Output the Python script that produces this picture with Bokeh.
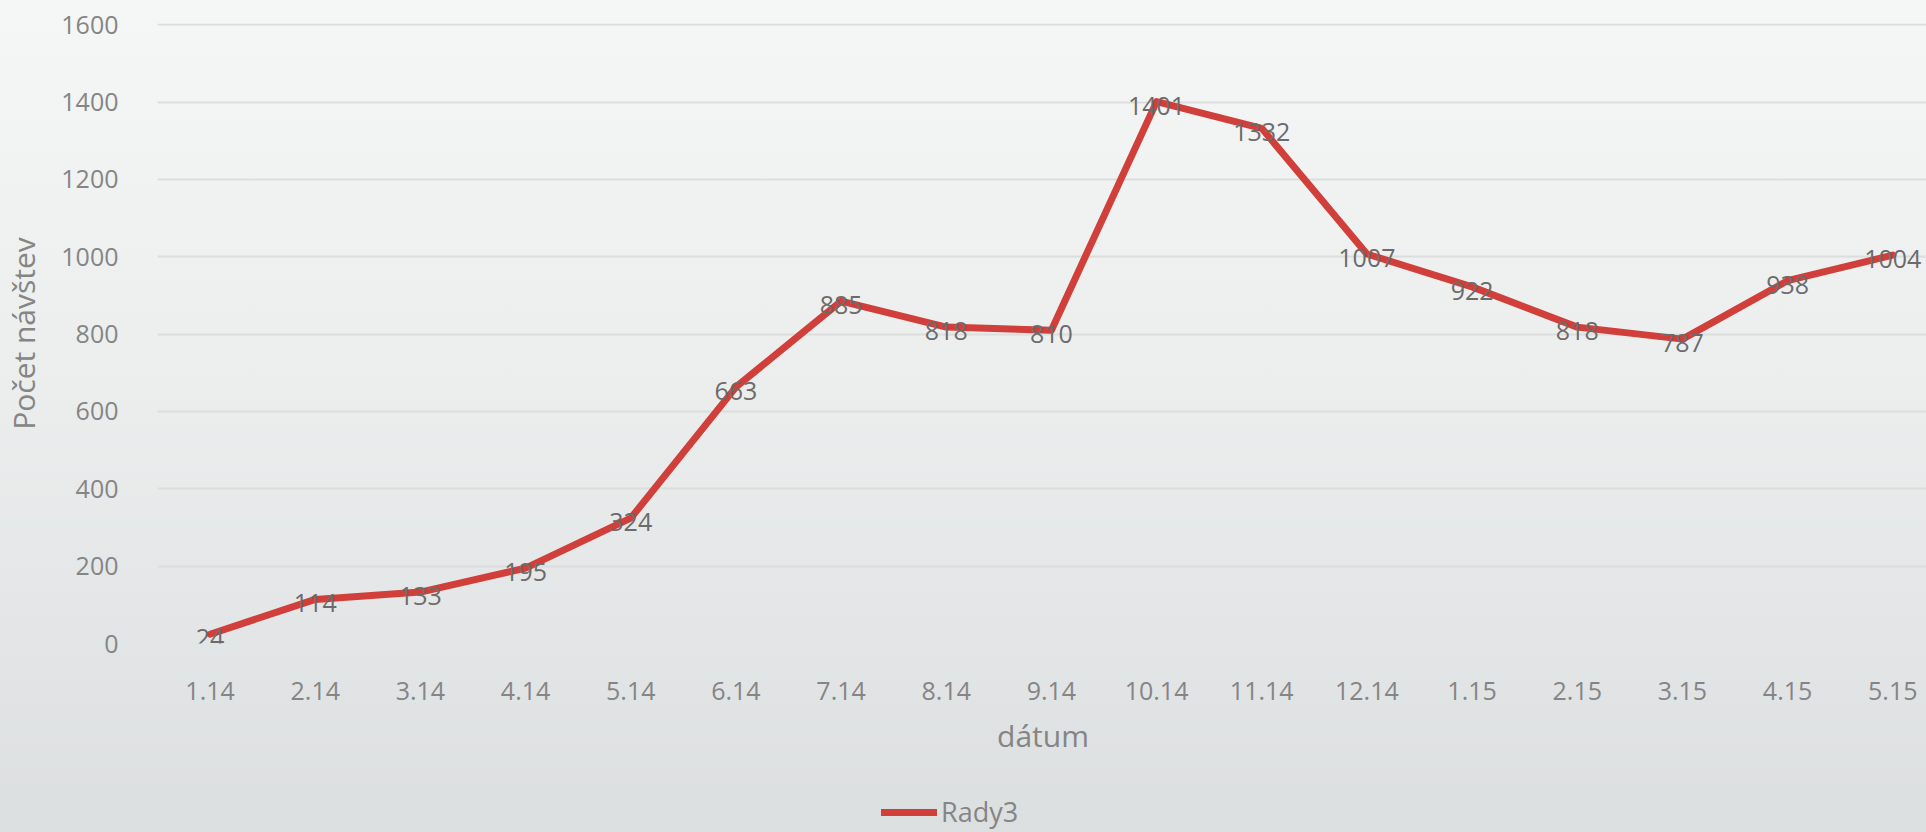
from bokeh.plotting import figure
from bokeh.layouts import column
from bokeh.models import ColumnDataSource, Range1d, FixedTicker, Legend, LegendItem
from bokeh.core.properties import value
from bokeh.embed import file_html
from bokeh.resources import INLINE

categories = ["1.14", "2.14", "3.14", "4.14", "5.14", "6.14", "7.14", "8.14", "9.14",
              "10.14", "11.14", "12.14", "1.15", "2.15", "3.15", "4.15", "5.15"]
visits = [24, 114, 133, 195, 324, 663, 885, 818, 810, 1401, 1332, 1007, 922, 818, 787, 938, 1004]
y_ticks = [0, 200, 400, 600, 800, 1000, 1200, 1400, 1600]
series_name = "Rady3"

FONT = "Open Sans"
LINE_COLOR = "#d13f3b"
xs = list(range(len(categories)))
src = ColumnDataSource(dict(x=xs, y=visits, lbl=[str(v) for v in visits]))

p = figure(width=1926, height=790, frame_width=1771, frame_height=620,
           output_backend="svg", toolbar_location=None,
           x_range=Range1d(-0.5, 16.34), y_range=Range1d(0, 1603),
           min_border_left=155, min_border_top=23, min_border_right=0, min_border_bottom=147)
p.background_fill_color = None
p.border_fill_color = None
p.outline_line_color = None

r = p.line("x", "y", source=src, line_color=LINE_COLOR, line_width=7, line_cap="round", line_join="round")
p.text("x", "y", text="lbl", source=src, text_font=value(FONT), text_font_size="25px",
       text_color="#6b6b6b", text_align="center", text_baseline="middle", y_offset=4)

# axes
p.xaxis.ticker = FixedTicker(ticks=xs)
p.xaxis.major_label_overrides = {i: c for i, c in enumerate(categories)}
p.yaxis.ticker = FixedTicker(ticks=y_ticks)
for ax in (p.xaxis[0], p.yaxis[0]):
    ax.axis_line_color = None
    ax.major_tick_line_color = None
    ax.minor_tick_line_color = None
    ax.major_label_text_font = FONT
    ax.major_label_text_font_size = "25px"
    ax.major_label_text_color = "#858585"
    ax.axis_label_text_font = FONT
    ax.axis_label_text_font_size = "30px"
    ax.axis_label_text_font_style = "normal"
    ax.axis_label_text_color = "#858585"
p.xaxis.axis_label = "dátum"
p.yaxis.axis_label = "Počet návštev"
p.xaxis.major_label_standoff = 32
p.yaxis.major_label_standoff = 33
p.xaxis.axis_label_standoff = 12
p.yaxis.axis_label_standoff = 14

p.xgrid.grid_line_color = None
p.ygrid.grid_line_color = "#dcdddd"
p.ygrid.grid_line_width = 2

# legend strip below the chart
p2 = figure(width=1926, height=42, output_backend="svg", toolbar_location=None,
            x_axis_location=None, y_axis_location=None,
            x_range=Range1d(0, 1), y_range=Range1d(0, 1), min_border=0)
p2.background_fill_color = None
p2.border_fill_color = None
p2.outline_line_color = None
p2.grid.visible = False
r2 = p2.line("x", "y", source=src, line_color=LINE_COLOR, line_width=7, line_cap="round", visible=False)
legend = Legend(items=[LegendItem(label=series_name, renderers=[r2])],
                location=(724, 2), orientation="horizontal",
                background_fill_alpha=0, border_line_color=None,
                label_text_font=FONT, label_text_font_size="27px", label_text_color="#858585",
                glyph_width=56, label_standoff=4, padding=0, margin=0)
p2.add_layout(legend, "center")

layout = column(p, p2, spacing=0)
layout.styles = {"background-color": "#dcdfe0",
                 "background-image": "linear-gradient(to bottom, #f5f6f6 0%, #eceeee 45%, #dcdfe0 100%)",
                 "background-size": "100% 832px", "background-repeat": "no-repeat"}

open("out.html", "w").write(file_html(layout, INLINE))
